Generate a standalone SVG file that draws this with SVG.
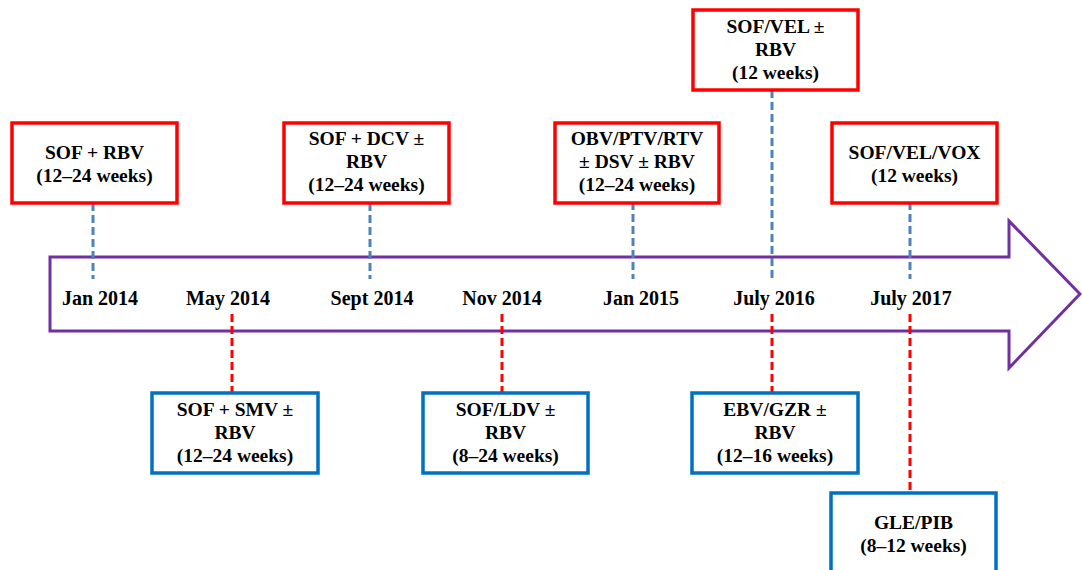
<svg xmlns="http://www.w3.org/2000/svg" width="1082" height="570" viewBox="0 0 1082 570">
<style>
text{font-family:"Liberation Serif","Times New Roman",serif;font-weight:bold;fill:#000;text-anchor:middle}
.box{font-size:19.5px}
.date{font-size:20px}
.rbox{fill:#fff;stroke:#FF0000;stroke-width:3.5}
.bbox{fill:#fff;stroke:#0070C0;stroke-width:3.5}
.bdash{stroke:#4F81BD;stroke-width:3;stroke-dasharray:8 4;fill:none}
.rdash{stroke:#FF0000;stroke-width:3;stroke-dasharray:8 4;fill:none}
</style>
<rect width="1082" height="570" fill="#fff"/>
<g id="arrow">
<path d="M50,257 H1009 V221 L1080,294 L1009,368 V331 H50 Z" fill="#fff" stroke="#7030A0" stroke-width="3"/>
</g>
<g id="connectors">
<line class="bdash" x1="93" y1="203" x2="93" y2="279"/>
<line class="bdash" x1="370" y1="203" x2="370" y2="279"/>
<line class="bdash" x1="633" y1="202" x2="633" y2="279"/>
<line class="bdash" x1="772" y1="90" x2="772" y2="281"/>
<line class="bdash" x1="910" y1="202" x2="910" y2="279"/>
<line class="rdash" x1="232" y1="314" x2="232" y2="393"/>
<line class="rdash" x1="502" y1="314" x2="502" y2="393"/>
<line class="rdash" x1="772" y1="314" x2="772" y2="393"/>
<line class="rdash" x1="910" y1="314" x2="910" y2="493"/>
</g>
<g id="dates" class="date">
<text class="date" x="100" y="305">Jan 2014</text>
<text class="date" x="228" y="305">May 2014</text>
<text class="date" x="372" y="305">Sept 2014</text>
<text class="date" x="502" y="305">Nov 2014</text>
<text class="date" x="641" y="305">Jan 2015</text>
<text class="date" x="774" y="305">July 2016</text>
<text class="date" x="911" y="305">July 2017</text>
</g>
<g id="n1">
<rect class="rbox" x="12" y="123" width="165" height="80"/>
<text class="box" x="94.5" y="159">SOF + RBV</text>
<text class="box" x="94.5" y="182">(12–24 weeks)</text>
</g>
<g id="n2">
<rect class="rbox" x="284" y="123" width="165" height="80"/>
<text class="box" x="366.5" y="145">SOF + DCV ±</text>
<text class="box" x="366.5" y="168">RBV</text>
<text class="box" x="366.5" y="191">(12–24 weeks)</text>
</g>
<g id="n3">
<rect class="rbox" x="555" y="123" width="164" height="80"/>
<text class="box" x="637" y="145">OBV/PTV/RTV</text>
<text class="box" x="637" y="168">± DSV ± RBV</text>
<text class="box" x="637" y="191">(12–24 weeks)</text>
</g>
<g id="n4">
<rect class="rbox" x="693" y="10" width="165" height="80"/>
<text class="box" x="775.5" y="33">SOF/VEL ±</text>
<text class="box" x="775.5" y="56">RBV</text>
<text class="box" x="775.5" y="79">(12 weeks)</text>
</g>
<g id="n5">
<rect class="rbox" x="832" y="123" width="165" height="80"/>
<text class="box" x="914.5" y="159">SOF/VEL/VOX</text>
<text class="box" x="914.5" y="182">(12 weeks)</text>
</g>
<g id="n6">
<rect class="bbox" x="152" y="393" width="166" height="80"/>
<text class="box" x="235" y="416">SOF + SMV ±</text>
<text class="box" x="235" y="439">RBV</text>
<text class="box" x="235" y="462">(12–24 weeks)</text>
</g>
<g id="n7">
<rect class="bbox" x="423" y="393" width="165" height="80"/>
<text class="box" x="505.5" y="416">SOF/LDV ±</text>
<text class="box" x="505.5" y="439">RBV</text>
<text class="box" x="505.5" y="462">(8–24 weeks)</text>
</g>
<g id="n8">
<rect class="bbox" x="692" y="393" width="166" height="80"/>
<text class="box" x="775" y="416">EBV/GZR ±</text>
<text class="box" x="775" y="439">RBV</text>
<text class="box" x="775" y="462">(12–16 weeks)</text>
</g>
<g id="n9">
<rect class="bbox" x="831" y="493" width="165" height="90"/>
<text class="box" x="913.5" y="529">GLE/PIB</text>
<text class="box" x="913.5" y="552">(8–12 weeks)</text>
</g>
</svg>
